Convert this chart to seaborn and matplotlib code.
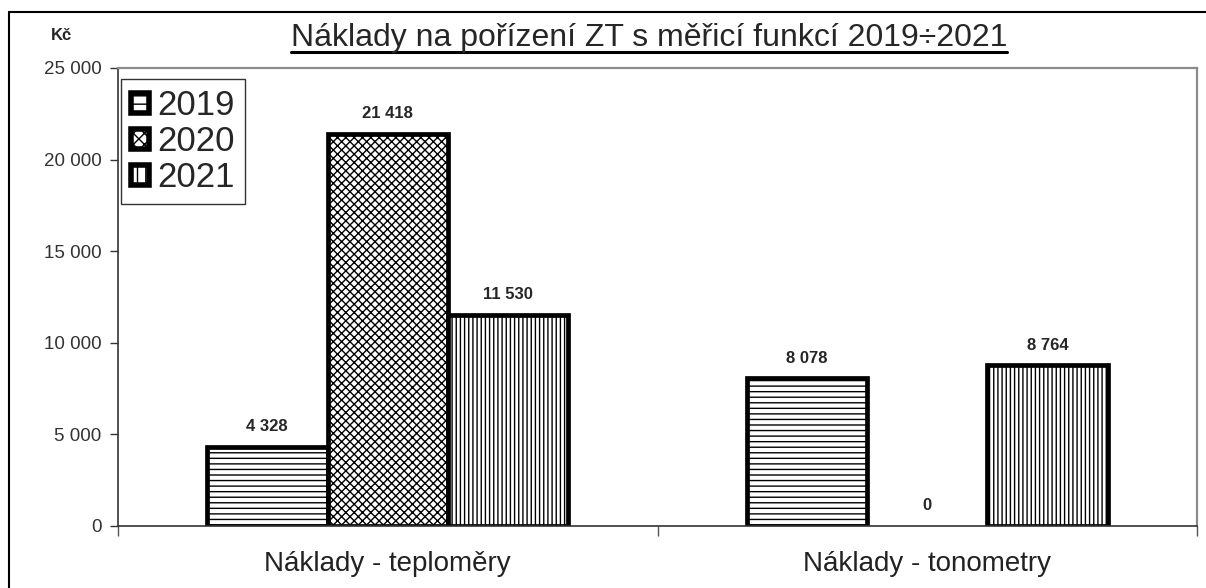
import matplotlib
matplotlib.use('Agg')
import matplotlib.pyplot as plt
import matplotlib.patches as mpatches
from matplotlib.lines import Line2D
from matplotlib.ticker import FixedLocator
import pandas as pd
import seaborn as sns

categories = ['Náklady - teploměry', 'Náklady - tonometry']
years = ['2019', '2020', '2021']
costs_2019 = [4328, 8078]
costs_2020 = [21418, 0]
costs_2021 = [11530, 8764]
y_ticks = [0, 5000, 10000, 15000, 20000, 25000]


def fmt(v):
    # česká mezera jako oddělovač tisíců
    return f'{v:,.0f}'.replace(',', ' ')


df = pd.DataFrame({
    'kategorie': categories * 3,
    'rok': [y for y in years for _ in categories],
    'hodnota': costs_2019 + costs_2020 + costs_2021,
})

sns.set_style('white')
plt.rcParams['font.family'] = ['Liberation Sans', 'DejaVu Sans']
plt.rcParams['hatch.linewidth'] = 1.0
plt.rcParams['hatch.color'] = 'black'

W, H = 1206, 588
fig = plt.figure(figsize=(W / 100, H / 100), dpi=100)
ax = fig.add_axes([118 / W, 1 - 526 / H, (1197 - 118) / W, (526 - 68) / H])

sns.barplot(data=df, x='kategorie', y='hodnota', hue='rok',
            palette={y: 'white' for y in years}, edgecolor='black',
            linewidth=3.4, width=0.67, ax=ax, legend=False)

hatches = ['---', 'xxxx', '||||']
series = [costs_2019, costs_2020, costs_2021]
for cont, h, vals in zip(ax.containers, hatches, series):
    for bar, v in zip(cont, vals):
        bar.set_hatch(h)
        if v == 0:
            bar.set_visible(False)
    ax.bar_label(cont, labels=[fmt(v) for v in vals], padding=9,
                 fontsize=12, fontweight='bold')

# osy
ax.set_xlim(-0.5, 1.5)
ax.set_ylim(0, 25000)
ax.set_yticks(y_ticks)
ax.set_yticklabels([fmt(v) for v in y_ticks], fontsize=13.5, color='#333333')
ax.tick_params(axis='y', left=True, direction='out', length=6, width=1, color='#333333', pad=6)
ax.tick_params(axis='x', which='major', length=0, labelsize=20, labelcolor='#222222', pad=18)
ax.xaxis.set_minor_locator(FixedLocator([-0.5, 0.5, 1.5]))
ax.tick_params(axis='x', which='minor', bottom=True, direction='out', length=7, width=1, color='#555555')
ax.set_xlabel('')
ax.set_ylabel('')
for side in ['left', 'bottom']:
    ax.spines[side].set_color('#333333')
    ax.spines[side].set_linewidth(1.2)
for side in ['top', 'right']:
    ax.spines[side].set_color('#8c8c8c')
    ax.spines[side].set_linewidth(1.6)

# legenda
handles = [mpatches.Patch(facecolor='white', edgecolor='black', hatch=h, linewidth=4)
           for h in ['--', 'xxx', '||']]
leg = ax.legend(handles, years, loc='upper left',
                bbox_to_anchor=((121 - 118) / 1079, 1 - (79 - 68) / 458),
                borderaxespad=0, fontsize=25, frameon=True, fancybox=False,
                edgecolor='black', handlelength=0.5, handleheight=0.5,
                handletextpad=0.25, labelspacing=0.08, borderpad=0.3)
leg.get_frame().set_linewidth(1.0)

fig.text(61 / W, 1 - 36 / H, 'Kč', fontsize=12, fontweight='bold', ha='center', va='center')

title = fig.text(649 / W, 1 - 38 / H, 'Náklady na pořízení ZT s měřicí funkcí 2019÷2021',
                 fontsize=23, ha='center', va='center',
                 family=['Liberation Sans Narrow', 'Liberation Sans', 'DejaVu Sans'])
fig.canvas.draw()
bb = title.get_window_extent()
fig.add_artist(Line2D([bb.x0 / W, bb.x1 / W], [(bb.y0 + 1) / H, (bb.y0 + 1) / H],
                      color='black', linewidth=2.2))

# rámeček grafu
fig.add_artist(Line2D([9 / W, 9 / W], [0, 1 - 12 / H], color='black', linewidth=1.5))
fig.add_artist(Line2D([9 / W, 1], [1 - 12 / H, 1 - 12 / H], color='black', linewidth=1.5))

fig.savefig('out.png', dpi=100)
